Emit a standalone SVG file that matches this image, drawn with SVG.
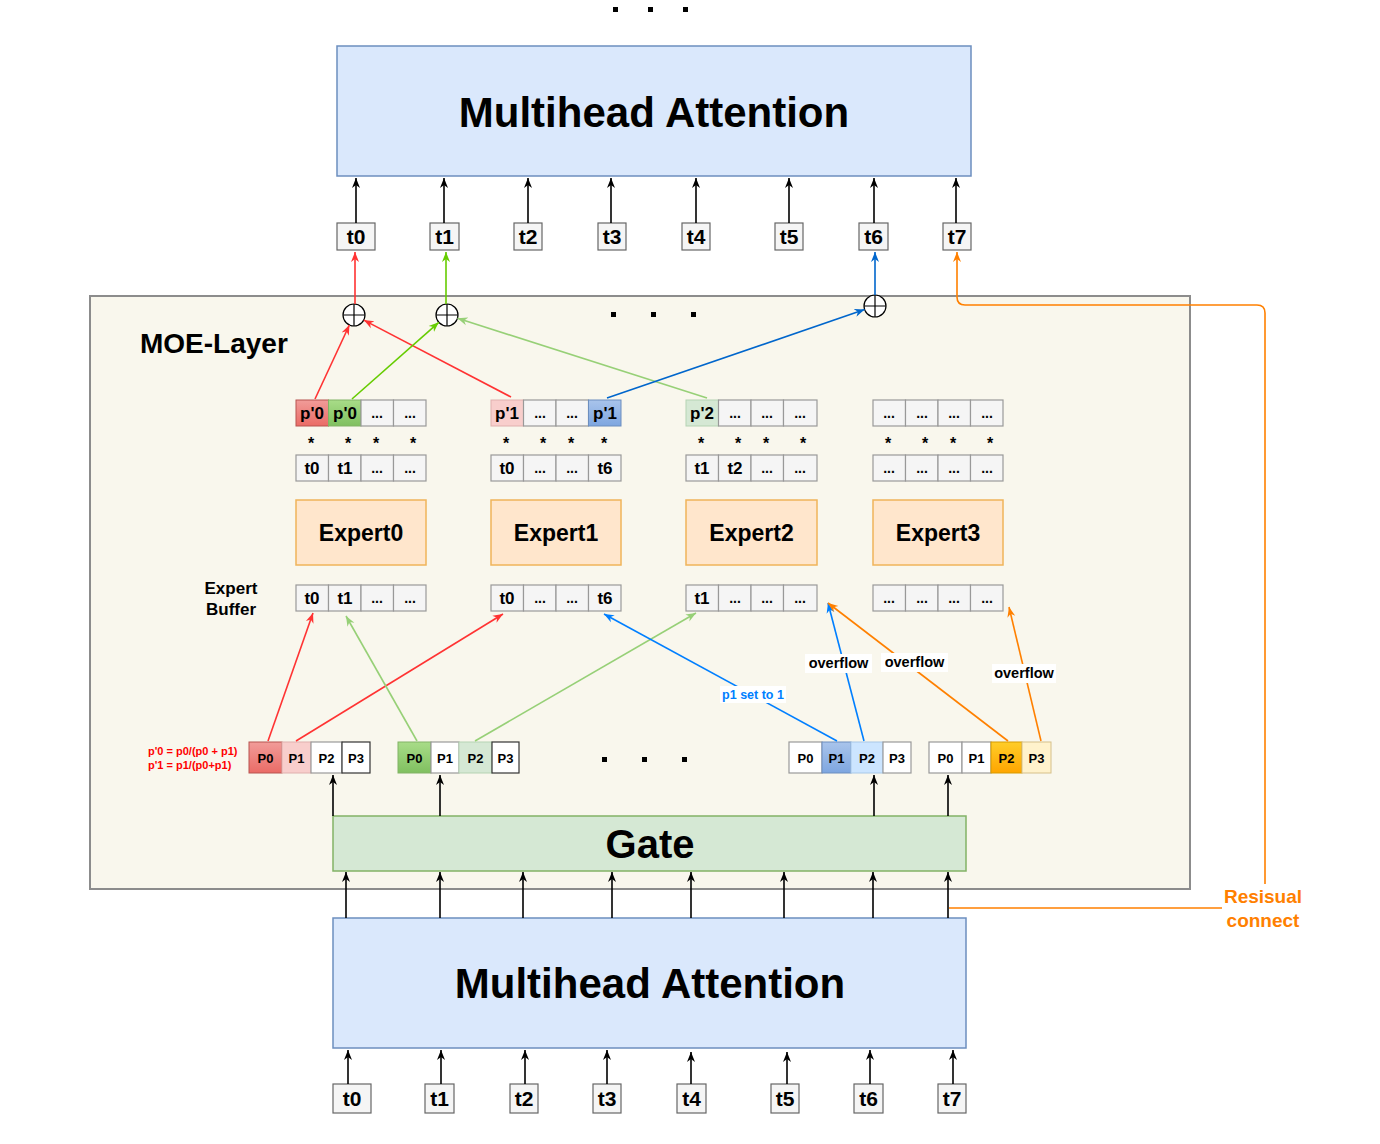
<svg xmlns="http://www.w3.org/2000/svg" width="1380" height="1144" viewBox="0 0 1380 1144">
<style>
text{font-family:"Liberation Sans",Arial,sans-serif;font-weight:bold;fill:#000}
.mha{fill:#dae8fc;stroke:#6c8ebf;stroke-width:1.5}
.tok{fill:#f5f5f5;stroke:#666;stroke-width:1.2}
.cell{fill:#f5f5f5;stroke:#999;stroke-width:1.2}
.pc{fill:#fff;stroke:#999;stroke-width:1.2}
.exp{fill:#ffe6cc;stroke:#f0b45a;stroke-width:1.5}
.ln{fill:none;stroke-width:1.6}
.k{stroke:#000}.r{stroke:#ff3333}.g{stroke:#66cc00}.lg{stroke:#97d077}.b{stroke:#0066cc}.b2{stroke:#007fff}.o{stroke:#ff8000}
.tt{font-size:21px;text-anchor:middle}
.ct{font-size:17px;text-anchor:middle}
.dt{font-size:14px;text-anchor:middle}
.st{font-size:16px;text-anchor:middle}
.pt{font-size:13px;text-anchor:middle}
.lbl{font-size:14.5px;text-anchor:middle}
.dot{fill:#000}
</style>
<defs>
<marker id="ak" markerUnits="userSpaceOnUse" markerWidth="10" markerHeight="10" refX="10" refY="5" orient="auto"><path d="M0,1 L10,5 L0,9 L3,5 z" fill="#000"/></marker>
<marker id="ar" markerUnits="userSpaceOnUse" markerWidth="10" markerHeight="10" refX="10" refY="5" orient="auto"><path d="M0,1 L10,5 L0,9 L3,5 z" fill="#ff3333"/></marker>
<marker id="ag" markerUnits="userSpaceOnUse" markerWidth="10" markerHeight="10" refX="10" refY="5" orient="auto"><path d="M0,1 L10,5 L0,9 L3,5 z" fill="#66cc00"/></marker>
<marker id="alg" markerUnits="userSpaceOnUse" markerWidth="10" markerHeight="10" refX="10" refY="5" orient="auto"><path d="M0,1 L10,5 L0,9 L3,5 z" fill="#97d077"/></marker>
<marker id="ab" markerUnits="userSpaceOnUse" markerWidth="10" markerHeight="10" refX="10" refY="5" orient="auto"><path d="M0,1 L10,5 L0,9 L3,5 z" fill="#0066cc"/></marker>
<marker id="ab2" markerUnits="userSpaceOnUse" markerWidth="10" markerHeight="10" refX="10" refY="5" orient="auto"><path d="M0,1 L10,5 L0,9 L3,5 z" fill="#007fff"/></marker>
<marker id="ao" markerUnits="userSpaceOnUse" markerWidth="10" markerHeight="10" refX="10" refY="5" orient="auto"><path d="M0,1 L10,5 L0,9 L3,5 z" fill="#ff8000"/></marker>
<linearGradient id="gr" x1="0" y1="0" x2="0" y2="1"><stop offset="0" stop-color="#f19c99"/><stop offset="1" stop-color="#ea6b66"/></linearGradient>
<linearGradient id="gg" x1="0" y1="0" x2="0" y2="1"><stop offset="0" stop-color="#a8dc88"/><stop offset="1" stop-color="#80c060"/></linearGradient>
<linearGradient id="gb" x1="0" y1="0" x2="0" y2="1"><stop offset="0" stop-color="#a9c4eb"/><stop offset="1" stop-color="#7ea6e0"/></linearGradient>
<linearGradient id="go" x1="0" y1="0" x2="0" y2="1"><stop offset="0" stop-color="#ffcd28"/><stop offset="1" stop-color="#ffa500"/></linearGradient>
</defs>

<rect width="1380" height="1144" fill="#fff"/>

<!-- top dots -->
<g id="top-dots"><rect class="dot" x="613" y="7" width="5" height="5"/><rect class="dot" x="648" y="7" width="5" height="5"/><rect class="dot" x="683" y="7" width="5" height="5"/></g>

<g id="mha-top"><rect class="mha" x="337" y="46" width="634" height="130"/><text x="654" y="127" font-size="42" text-anchor="middle">Multihead Attention</text></g>

<g id="top-tokens">
<rect class="tok" x="337" y="223" width="38" height="27"/><text class="tt" x="356" y="244">t0</text>
<rect class="tok" x="430" y="223" width="29" height="27"/><text class="tt" x="444.5" y="244">t1</text>
<rect class="tok" x="514" y="223" width="28" height="27"/><text class="tt" x="528" y="244">t2</text>
<rect class="tok" x="598" y="223" width="28" height="27"/><text class="tt" x="612" y="244">t3</text>
<rect class="tok" x="682" y="223" width="28" height="27"/><text class="tt" x="696" y="244">t4</text>
<rect class="tok" x="775" y="223" width="28" height="27"/><text class="tt" x="789" y="244">t5</text>
<rect class="tok" x="859" y="223" width="29" height="27"/><text class="tt" x="873.5" y="244">t6</text>
<rect class="tok" x="943" y="223" width="28" height="27"/><text class="tt" x="957" y="244">t7</text>
</g>

<g id="moe-layer">
<rect x="90" y="296" width="1100" height="593" fill="#f9f7ed" stroke="#8c8c8c" stroke-width="2"/>
<text x="140" y="353" font-size="28">MOE-Layer</text>
<rect class="dot" x="611" y="312" width="5" height="5"/><rect class="dot" x="651" y="312" width="5" height="5"/><rect class="dot" x="691" y="312" width="5" height="5"/>
<rect class="dot" x="602" y="757" width="5" height="5"/><rect class="dot" x="642" y="757" width="5" height="5"/><rect class="dot" x="682" y="757" width="5" height="5"/>
</g>

<g id="sum-nodes" fill="#fff" stroke="#000" stroke-width="1.2">
<circle cx="354" cy="315" r="11"/><path d="M343 315 H365 M354 304 V326"/>
<circle cx="447" cy="315" r="11"/><path d="M436 315 H458 M447 304 V326"/>
<circle cx="875" cy="306" r="11"/><path d="M864 306 H886 M875 295 V317"/>
</g>

<!-- Expert 0 -->
<g id="expert0">
<rect x="296" y="400" width="32.5" height="26" fill="url(#gr)" stroke="#b85450" stroke-width="1"/><text class="ct" x="312" y="419">p'0</text>
<rect x="328.5" y="400" width="32.5" height="26" fill="url(#gg)" stroke="#82b366" stroke-width="1"/><text class="ct" x="345" y="419">p'0</text>
<rect class="cell" x="361" y="400" width="32.5" height="26"/><text class="dt" x="377" y="418">...</text>
<rect class="cell" x="393.5" y="400" width="32.5" height="26"/><text class="dt" x="410" y="418">...</text>
<text class="st" x="311" y="449">*</text><text class="st" x="348" y="449">*</text><text class="st" x="376" y="449">*</text><text class="st" x="413" y="449">*</text>
<rect class="cell" x="296" y="455" width="32.5" height="26"/><text class="ct" x="312" y="474">t0</text>
<rect class="cell" x="328.5" y="455" width="32.5" height="26"/><text class="ct" x="345" y="474">t1</text>
<rect class="cell" x="361" y="455" width="32.5" height="26"/><text class="dt" x="377" y="473">...</text>
<rect class="cell" x="393.5" y="455" width="32.5" height="26"/><text class="dt" x="410" y="473">...</text>
<rect class="exp" x="296" y="500" width="130" height="65"/><text x="361" y="541" font-size="23" text-anchor="middle">Expert0</text>
<rect class="cell" x="296" y="585" width="32.5" height="26"/><text class="ct" x="312" y="604">t0</text>
<rect class="cell" x="328.5" y="585" width="32.5" height="26"/><text class="ct" x="345" y="604">t1</text>
<rect class="cell" x="361" y="585" width="32.5" height="26"/><text class="dt" x="377" y="603">...</text>
<rect class="cell" x="393.5" y="585" width="32.5" height="26"/><text class="dt" x="410" y="603">...</text>
</g>

<!-- Expert 1 -->
<g id="expert1">
<rect x="491" y="400" width="32.5" height="26" fill="#f8cecc" stroke="#e0b0ae" stroke-width="1"/><text class="ct" x="507" y="419">p'1</text>
<rect class="cell" x="523.5" y="400" width="32.5" height="26"/><text class="dt" x="540" y="418">...</text>
<rect class="cell" x="556" y="400" width="32.5" height="26"/><text class="dt" x="572" y="418">...</text>
<rect x="588.5" y="400" width="32.5" height="26" fill="url(#gb)" stroke="#6c8ebf" stroke-width="1"/><text class="ct" x="605" y="419">p'1</text>
<text class="st" x="506" y="449">*</text><text class="st" x="543" y="449">*</text><text class="st" x="571" y="449">*</text><text class="st" x="604" y="449">*</text>
<rect class="cell" x="491" y="455" width="32.5" height="26"/><text class="ct" x="507" y="474">t0</text>
<rect class="cell" x="523.5" y="455" width="32.5" height="26"/><text class="dt" x="540" y="473">...</text>
<rect class="cell" x="556" y="455" width="32.5" height="26"/><text class="dt" x="572" y="473">...</text>
<rect class="cell" x="588.5" y="455" width="32.5" height="26"/><text class="ct" x="605" y="474">t6</text>
<rect class="exp" x="491" y="500" width="130" height="65"/><text x="556" y="541" font-size="23" text-anchor="middle">Expert1</text>
<rect class="cell" x="491" y="585" width="32.5" height="26"/><text class="ct" x="507" y="604">t0</text>
<rect class="cell" x="523.5" y="585" width="32.5" height="26"/><text class="dt" x="540" y="603">...</text>
<rect class="cell" x="556" y="585" width="32.5" height="26"/><text class="dt" x="572" y="603">...</text>
<rect class="cell" x="588.5" y="585" width="32.5" height="26"/><text class="ct" x="605" y="604">t6</text>
</g>

<!-- Expert 2 -->
<g id="expert2">
<rect x="686" y="400" width="32.5" height="26" fill="#d5e8d4" stroke="#b5d3b3" stroke-width="1"/><text class="ct" x="702" y="419">p'2</text>
<rect class="cell" x="718.5" y="400" width="32.5" height="26"/><text class="dt" x="735" y="418">...</text>
<rect class="cell" x="751" y="400" width="32.5" height="26"/><text class="dt" x="767" y="418">...</text>
<rect class="cell" x="783.5" y="400" width="33.5" height="26"/><text class="dt" x="800" y="418">...</text>
<text class="st" x="701" y="449">*</text><text class="st" x="738" y="449">*</text><text class="st" x="766" y="449">*</text><text class="st" x="803" y="449">*</text>
<rect class="cell" x="686" y="455" width="32.5" height="26"/><text class="ct" x="702" y="474">t1</text>
<rect class="cell" x="718.5" y="455" width="32.5" height="26"/><text class="ct" x="735" y="474">t2</text>
<rect class="cell" x="751" y="455" width="32.5" height="26"/><text class="dt" x="767" y="473">...</text>
<rect class="cell" x="783.5" y="455" width="33.5" height="26"/><text class="dt" x="800" y="473">...</text>
<rect class="exp" x="686" y="500" width="131" height="65"/><text x="751.5" y="541" font-size="23" text-anchor="middle">Expert2</text>
<rect class="cell" x="686" y="585" width="32.5" height="26"/><text class="ct" x="702" y="604">t1</text>
<rect class="cell" x="718.5" y="585" width="32.5" height="26"/><text class="dt" x="735" y="603">...</text>
<rect class="cell" x="751" y="585" width="32.5" height="26"/><text class="dt" x="767" y="603">...</text>
<rect class="cell" x="783.5" y="585" width="33.5" height="26"/><text class="dt" x="800" y="603">...</text>
</g>

<!-- Expert 3 -->
<g id="expert3">
<rect class="cell" x="873" y="400" width="32.5" height="26"/><text class="dt" x="889" y="418">...</text>
<rect class="cell" x="905.5" y="400" width="32.5" height="26"/><text class="dt" x="922" y="418">...</text>
<rect class="cell" x="938" y="400" width="32.5" height="26"/><text class="dt" x="954" y="418">...</text>
<rect class="cell" x="970.5" y="400" width="32.5" height="26"/><text class="dt" x="987" y="418">...</text>
<text class="st" x="888" y="449">*</text><text class="st" x="925" y="449">*</text><text class="st" x="953" y="449">*</text><text class="st" x="990" y="449">*</text>
<rect class="cell" x="873" y="455" width="32.5" height="26"/><text class="dt" x="889" y="473">...</text>
<rect class="cell" x="905.5" y="455" width="32.5" height="26"/><text class="dt" x="922" y="473">...</text>
<rect class="cell" x="938" y="455" width="32.5" height="26"/><text class="dt" x="954" y="473">...</text>
<rect class="cell" x="970.5" y="455" width="32.5" height="26"/><text class="dt" x="987" y="473">...</text>
<rect class="exp" x="873" y="500" width="130" height="65"/><text x="938" y="541" font-size="23" text-anchor="middle">Expert3</text>
<rect class="cell" x="873" y="585" width="32.5" height="26"/><text class="dt" x="889" y="603">...</text>
<rect class="cell" x="905.5" y="585" width="32.5" height="26"/><text class="dt" x="922" y="603">...</text>
<rect class="cell" x="938" y="585" width="32.5" height="26"/><text class="dt" x="954" y="603">...</text>
<rect class="cell" x="970.5" y="585" width="32.5" height="26"/><text class="dt" x="987" y="603">...</text>
</g>

<g id="expert-buffer-label"><text x="231" y="594" font-size="17" text-anchor="middle">Expert</text><text x="231" y="615" font-size="17" text-anchor="middle">Buffer</text></g>

<g id="formula"><text x="148" y="755" font-size="11" fill="#ff0000" style="fill:#ff0000">p'0 = p0/(p0 + p1)</text><text x="148" y="769" font-size="11" style="fill:#ff0000">p'1 = p1/(p0+p1)</text></g>

<!-- P rows -->
<g id="prob0">
<rect x="249" y="742" width="33" height="31" fill="url(#gr)" stroke="#b85450" stroke-width="1"/><text class="pt" x="265.5" y="763">P0</text>
<rect x="282" y="742" width="29" height="31" fill="#f8cecc" stroke="#e0b0ae" stroke-width="1"/><text class="pt" x="296.5" y="763">P1</text>
<rect class="pc" x="311" y="742" width="31" height="31"/><text class="pt" x="326.5" y="763">P2</text>
<rect x="342" y="742" width="28" height="31" fill="#fff" stroke="#333" stroke-width="1.2"/><text class="pt" x="356" y="763">P3</text>
</g>
<g id="prob1">
<rect x="398" y="742" width="33" height="31" fill="url(#gg)" stroke="#82b366" stroke-width="1"/><text class="pt" x="414.5" y="763">P0</text>
<rect class="pc" x="431" y="742" width="28" height="31"/><text class="pt" x="445" y="763">P1</text>
<rect x="459" y="742" width="33" height="31" fill="#d5e8d4" stroke="#b5d3b3" stroke-width="1"/><text class="pt" x="475.5" y="763">P2</text>
<rect x="492" y="742" width="27" height="31" fill="#fff" stroke="#333" stroke-width="1.2"/><text class="pt" x="505.5" y="763">P3</text>
</g>
<g id="prob2">
<rect class="pc" x="789" y="742" width="33" height="31"/><text class="pt" x="805.5" y="763">P0</text>
<rect x="822" y="742" width="29" height="31" fill="url(#gb)" stroke="#6c8ebf" stroke-width="1"/><text class="pt" x="836.5" y="763">P1</text>
<rect x="851" y="742" width="32" height="31" fill="#cce5ff" stroke="#a8c8e8" stroke-width="1"/><text class="pt" x="867" y="763">P2</text>
<rect class="pc" x="883" y="742" width="28" height="31"/><text class="pt" x="897" y="763">P3</text>
</g>
<g id="prob3">
<rect class="pc" x="929" y="742" width="33" height="31"/><text class="pt" x="945.5" y="763">P0</text>
<rect class="pc" x="962" y="742" width="29" height="31"/><text class="pt" x="976.5" y="763">P1</text>
<rect x="991" y="742" width="31" height="31" fill="url(#go)" stroke="#d79b00" stroke-width="1"/><text class="pt" x="1006.5" y="763">P2</text>
<rect x="1022" y="742" width="29" height="31" fill="#fff2cc" stroke="#d6c08a" stroke-width="1"/><text class="pt" x="1036.5" y="763">P3</text>
</g>

<g id="gate"><rect x="333" y="816" width="633" height="55" fill="#d5e8d4" stroke="#82b366" stroke-width="1.5"/><text x="650" y="858" font-size="40" text-anchor="middle">Gate</text></g>

<g id="mha-bottom"><rect class="mha" x="333" y="918" width="633" height="130"/><text x="650" y="998" font-size="42" text-anchor="middle">Multihead Attention</text></g>

<g id="bottom-tokens">
<rect class="tok" x="333" y="1084" width="38" height="29"/><text class="tt" x="352" y="1106">t0</text>
<rect class="tok" x="425" y="1084" width="29" height="29"/><text class="tt" x="439.5" y="1106">t1</text>
<rect class="tok" x="510" y="1084" width="28" height="29"/><text class="tt" x="524" y="1106">t2</text>
<rect class="tok" x="593" y="1084" width="28" height="29"/><text class="tt" x="607" y="1106">t3</text>
<rect class="tok" x="677" y="1084" width="29" height="29"/><text class="tt" x="691.5" y="1106">t4</text>
<rect class="tok" x="771" y="1084" width="28" height="29"/><text class="tt" x="785" y="1106">t5</text>
<rect class="tok" x="854" y="1084" width="29" height="29"/><text class="tt" x="868.5" y="1106">t6</text>
<rect class="tok" x="938" y="1084" width="28" height="29"/><text class="tt" x="952" y="1106">t7</text>
</g>

<g id="residual-label"><text x="1263" y="903" font-size="19" text-anchor="middle" style="fill:#ff8000">Resisual</text><text x="1263" y="927" font-size="19" text-anchor="middle" style="fill:#ff8000">connect</text></g>

<g id="connectors">
<!-- tokens to top MHA -->
<g class="ln k" marker-end="url(#ak)">
<path d="M356 223 V178"/><path d="M444 223 V178"/><path d="M528 223 V178"/><path d="M611 223 V178"/><path d="M696 223 V178"/><path d="M789 223 V178"/><path d="M874 223 V178"/><path d="M956 223 V178"/>
</g>
<!-- sums to top tokens -->
<path class="ln r" d="M355 304 V252" marker-end="url(#ar)"/>
<path class="ln g" d="M446 304 V252" marker-end="url(#ag)"/>
<path class="ln b" d="M875 295 V252" marker-end="url(#ab)"/>
<!-- residual -->
<path class="ln o" d="M949 908 H1222 M1265 884 V313 Q1265 305 1257 305 H965 Q957 305 957 297 V252" marker-end="url(#ao)"/>
<!-- expert outputs to sums -->
<path class="ln r" d="M315 399 L349.4 325" marker-end="url(#ar)"/>
<path class="ln r" d="M511 397 L363.8 320.1" marker-end="url(#ar)"/>
<path class="ln g" d="M352 399 L438.8 322.3" marker-end="url(#ag)"/>
<path class="ln lg" d="M707 398 L457.5 318.3" marker-end="url(#alg)"/>
<path class="ln b" d="M607 398 L864.6 309.6" marker-end="url(#ab)"/>
<!-- routing to expert buffers -->
<path class="ln r" d="M268 741 L313 613" marker-end="url(#ar)"/>
<path class="ln r" d="M296 741 L503 614" marker-end="url(#ar)"/>
<path class="ln lg" d="M417 741 L346 616" marker-end="url(#alg)"/>
<path class="ln lg" d="M475 741 L696 613" marker-end="url(#alg)"/>
<path class="ln b2" d="M837 741 L604 614" marker-end="url(#ab2)"/>
<path class="ln b2" d="M864 741 L828 603" marker-end="url(#ab2)"/>
<path class="ln o" d="M1008 741 L828 603" marker-end="url(#ao)"/>
<path class="ln o" d="M1041 741 L1009 607" marker-end="url(#ao)"/>
<!-- gate to probs -->
<g class="ln k" stroke-width="1.2" marker-end="url(#ak)">
<path d="M333 816 V775"/><path d="M440 816 V775"/><path d="M874 816 V775"/><path d="M948 816 V775"/>
</g>
<!-- MHA to gate -->
<g class="ln k" stroke-width="1.2" marker-end="url(#ak)">
<path d="M346 918 V872"/><path d="M440 918 V872"/><path d="M523 918 V872"/><path d="M612 918 V872"/><path d="M691 918 V872"/><path d="M784 918 V872"/><path d="M873 918 V872"/><path d="M948 918 V872"/>
</g>
<!-- tokens to bottom MHA -->
<g class="ln k" stroke-width="1.2" marker-end="url(#ak)">
<path d="M348 1084 V1050"/><path d="M441 1084 V1050"/><path d="M525 1084 V1050"/><path d="M607 1084 V1050"/><path d="M691 1084 V1052"/><path d="M787 1084 V1052"/><path d="M870 1084 V1050"/><path d="M953 1084 V1050"/>
</g>
</g>

<g id="edge-labels">
<rect x="805" y="654" width="67" height="19" fill="#fff"/><text class="lbl" x="838.5" y="668">overflow</text>
<rect x="881" y="653" width="67" height="19" fill="#fff"/><text class="lbl" x="914.5" y="667">overflow</text>
<rect x="992" y="664" width="64" height="19" fill="#fff"/><text class="lbl" x="1024" y="678">overflow</text>
<rect x="720" y="686" width="66" height="17" fill="#fff"/><text x="753" y="699" font-size="12.5" text-anchor="middle" style="fill:#007fff">p1 set to 1</text>
</g>
</svg>
